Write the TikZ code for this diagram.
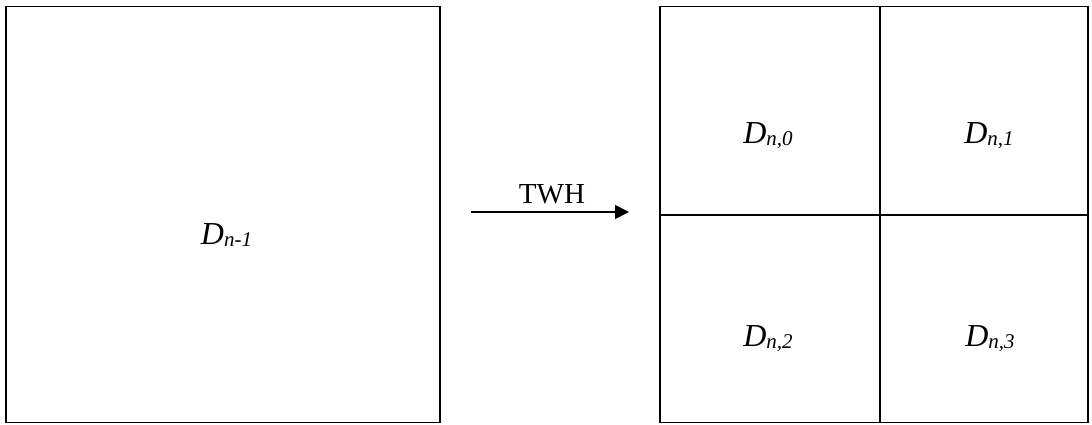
\documentclass[tikz,border=0pt]{standalone}
\usepackage{fontspec}
\setmainfont{Liberation Serif}
\usetikzlibrary{arrows.meta}
\newcommand{\dlabel}[1]{{\fontsize{32}{32}\selectfont\itshape D}\raisebox{-2pt}{\fontsize{21}{21}\selectfont\itshape #1}}
\tikzset{
  box/.style={draw=black, line width=1.8pt, inner sep=0pt, outer sep=0pt},
  lbl/.style={inner sep=0pt, anchor=base},
  arr/.style={line width=1.7pt, -{Triangle[length=14pt,width=14pt]}}
}
\begin{document}
\begin{tikzpicture}[x=1pt,y=-1pt]
\useasboundingbox (0,0) rectangle (1092,424);
% left square
\node[box, minimum width=434pt, minimum height=416pt] (L) at (223,214.5) {};
% right square quadrants
\node[box, minimum width=219.7pt, minimum height=208.5pt] (Q0) at (769.85,110.75) {};
\node[box, minimum width=208.3pt, minimum height=208.5pt] (Q1) at (983.85,110.75) {};
\node[box, minimum width=219.7pt, minimum height=207.5pt] (Q2) at (769.85,318.75) {};
\node[box, minimum width=208.3pt, minimum height=207.5pt] (Q3) at (983.85,318.75) {};
% labels
\node[lbl] (tL) at (226.5,244) {\dlabel{n-1}};
\node[lbl] (t0) at (768,143) {\dlabel{n,0}};
\node[lbl] (t1) at (989,143) {\dlabel{n,1}};
\node[lbl] (t2) at (768,346) {\dlabel{n,2}};
\node[lbl] (t3) at (990,346) {\dlabel{n,3}};
% arrow
\coordinate (aS) at (471,212);
\coordinate (aE) at (629,212);
\draw[arr] (aS) -- (aE);
\node[lbl] (twh) at (552,203) {\fontsize{29}{29}\selectfont TWH};
\end{tikzpicture}
\end{document}
